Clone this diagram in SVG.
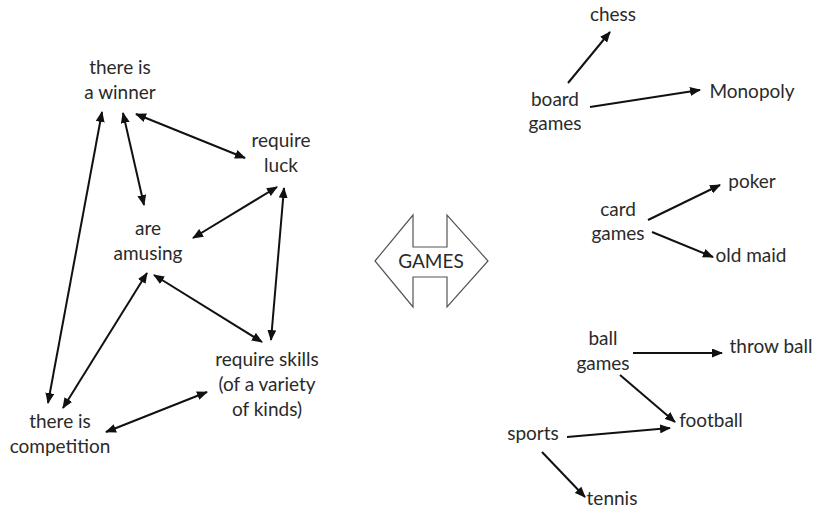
<svg xmlns="http://www.w3.org/2000/svg" width="819" height="514" viewBox="0 0 819 514">
<style>
text{font-family:Lato,"Open Sans","Liberation Sans",sans-serif;font-size:19px;fill:#2a2a2a;text-anchor:middle}
.c line{stroke:#111;stroke-width:2;marker-end:url(#ah)}
.c .d{marker-start:url(#ah)}
.shape{fill:#fff;stroke:#555;stroke-width:1.2}
</style>
<defs>
<marker id="ah" markerUnits="userSpaceOnUse" markerWidth="11" markerHeight="9" refX="10" refY="4.5" orient="auto-start-reverse">
<path d="M0,0 L11,4.5 L0,9 z" fill="#111"/>
</marker>
</defs>
<rect width="819" height="514" fill="#fff"/>
<g class="c" id="connectors">
<line class="d" x1="102" y1="112" x2="48" y2="403"/>
<line class="d" x1="123" y1="113" x2="144" y2="205"/>
<line class="d" x1="136" y1="114" x2="245" y2="158"/>
<line class="d" x1="277" y1="187" x2="193" y2="238"/>
<line class="d" x1="284" y1="188" x2="271" y2="340"/>
<line class="d" x1="147" y1="273" x2="63" y2="408"/>
<line class="d" x1="154" y1="275" x2="262" y2="342"/>
<line class="d" x1="106" y1="432" x2="207" y2="392"/>
<line x1="568" y1="83" x2="610" y2="32"/>
<line x1="590" y1="107" x2="700" y2="90"/>
<line x1="648" y1="220" x2="720" y2="185"/>
<line x1="652" y1="232" x2="713" y2="257"/>
<line x1="633" y1="353" x2="722" y2="353"/>
<line x1="620" y1="375" x2="675" y2="422"/>
<line x1="567" y1="437" x2="670" y2="428"/>
<line x1="542" y1="452" x2="585" y2="497"/>
</g>
<g id="winner"><text x="120" y="74">there is</text><text x="120" y="99">a winner</text></g>
<g id="luck"><text x="281" y="147">require</text><text x="281" y="172">luck</text></g>
<g id="amusing"><text x="148" y="235">are</text><text x="148" y="260">amusing</text></g>
<g id="skills"><text x="267" y="366">require skills</text><text x="267" y="391">(of a variety</text><text x="267" y="416">of kinds)</text></g>
<g id="competition"><text x="60" y="428">there is</text><text x="60" y="453">competition</text></g>
<g id="games">
<path class="shape" d="M375,261 L413,215 L413,247 L447,247 L447,215 L488,261 L447,307 L447,277 L413,277 L413,307 Z"/>
<text x="431" y="268">GAMES</text>
</g>
<g id="chess"><text x="613" y="21">chess</text></g>
<g id="board"><text x="555" y="106">board</text><text x="555" y="130">games</text></g>
<g id="monopoly"><text x="752" y="98">Monopoly</text></g>
<g id="card"><text x="618" y="216">card</text><text x="618" y="240">games</text></g>
<g id="poker"><text x="752" y="188">poker</text></g>
<g id="oldmaid"><text x="751" y="262">old maid</text></g>
<g id="ball"><text x="603" y="345">ball</text><text x="603" y="370">games</text></g>
<g id="throwball"><text x="771" y="353">throw ball</text></g>
<g id="football"><text x="711" y="427">football</text></g>
<g id="sports"><text x="533" y="440">sports</text></g>
<g id="tennis"><text x="612" y="505">tennis</text></g>
</svg>
